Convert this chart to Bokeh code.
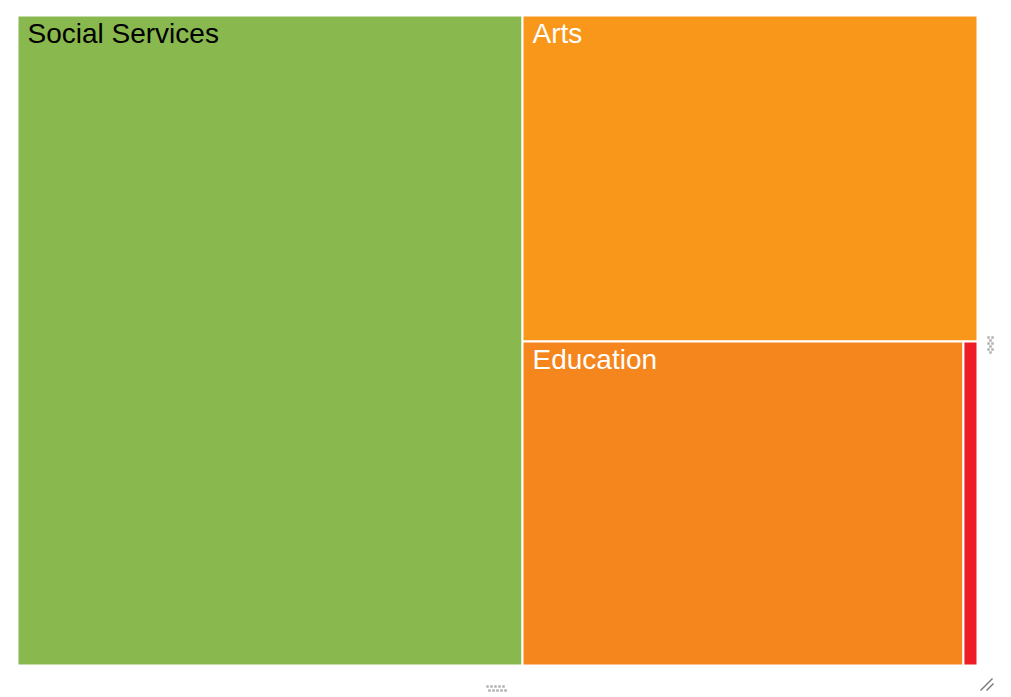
from bokeh.plotting import figure
from bokeh.models import ColumnDataSource
from bokeh.core.properties import value
from bokeh.embed import file_html
from bokeh.resources import INLINE

# ---- data ----
categories = ["Social Services", "Arts", "Education", "Health"]
amounts = [5260, 2377, 2289, 73]
colors = ["#88B84E", "#F8971A", "#F5851D", "#EE1C25"]
label_colors = ["black", "white", "white", "white"]

# ---- squarified treemap layout (in pixel-like data units) ----
X0, Y0, W, H = 17.0, 15.0, 960.0, 650.0


def worst(row, side):
    s = sum(row)
    return max(max(side * side * r / (s * s), s * s / (side * side * r)) for r in row)


def squarify(vals, x, y, w, h):
    total = float(sum(vals))
    areas = [v / total * w * h for v in vals]
    rects = []
    while areas:
        side = min(w, h)
        row = [areas[0]]
        i = 1
        while i < len(areas) and worst(row + [areas[i]], side) <= worst(row, side):
            row.append(areas[i])
            i += 1
        areas = areas[i:]
        s = sum(row)
        if w >= h:
            cw = s / h
            yy = y
            for r in row:
                rh = r / cw
                rects.append((x, yy, cw, rh))
                yy += rh
            x += cw
            w -= cw
        else:
            rh = s / w
            xx = x
            for r in row:
                rw = r / rh
                rects.append((xx, y, rw, rh))
                xx += rw
            y += rh
            h -= rh
    return rects


rects = squarify(amounts, X0, Y0, W, H)
left = [r[0] for r in rects]
top = [r[1] for r in rects]
right = [r[0] + r[2] for r in rects]
bottom = [r[1] + r[3] for r in rects]

src = ColumnDataSource(dict(left=left, right=right, top=top, bottom=bottom,
                            color=colors, cat=categories))

p = figure(width=1011, height=697, x_range=(0, 1011), y_range=(697, 0),
           output_backend="svg", toolbar_location=None, min_border=0,
           background_fill_color="white", border_fill_color="white")
p.axis.visible = False
p.grid.visible = False
p.outline_line_color = None

p.quad(left="left", right="right", top="top", bottom="bottom", source=src,
       fill_color="color", line_color="white", line_width=2)

# labels only where the box is large enough
lx, ly, lt, lc = [], [], [], []
for (x, y, w, h), c, tc in zip(rects, categories, label_colors):
    if w > 100 and h > 40:
        lx.append(x + 10)
        ly.append(y + 2)
        lt.append(c)
        lc.append(tc)
lsrc = ColumnDataSource(dict(x=lx, y=ly, text=lt, color=lc))
p.text(x="x", y="y", text="text", source=lsrc, text_color="color",
       text_font=value("Liberation Sans"), text_font_size="28px",
       text_baseline="top", text_align="left")

# resize grips (decorative)
gx = [487, 491, 495, 499, 503, 489, 493, 497, 501, 505]
gy = [686, 686, 686, 686, 686, 690, 690, 690, 690, 690]
p.rect(x=gx, y=gy, width=2.5, height=2.5, fill_color="#b0b0b0", line_color=None)
vx = [988, 992, 990, 988, 992, 990, 988, 992, 990]
vy = [337, 337, 340, 343, 343, 346, 349, 349, 352]
p.rect(x=vx, y=vy, width=2.5, height=2.5, fill_color="#b0b0b0", line_color=None)
p.segment(x0=[980, 986], y0=[690, 690], x1=[992, 993], y1=[678, 683],
          line_color="#7a7a7a", line_width=1.5)

open("out.html", "w").write(file_html(p, INLINE))
